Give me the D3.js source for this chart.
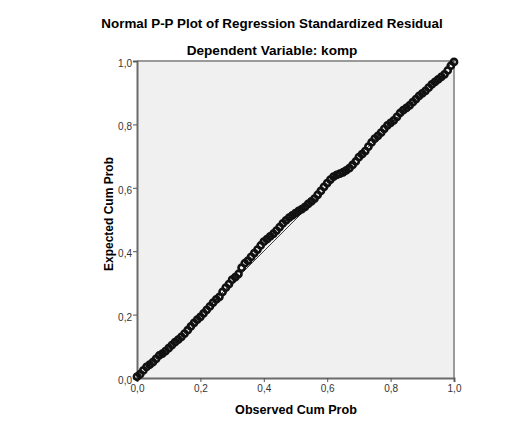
<html>
    <head>
        <meta charset="utf-8">
        <script src="https://d3js.org/d3.v7.min.js"></script>
        <title>P-P plot</title>
        <style>
            body { margin: 0; background: white; }
            text { font-family: Arial, "Liberation Sans", sans-serif; }
        </style>
    </head>
    <body>
        <svg id="chart"></svg>
        <script>
            // observed cum prob (x) and expected cum prob (y)
            const observed = [0.00, 0.01, 0.02, 0.03, 0.04, 0.05, 0.06, 0.07, 0.08, 0.09,
                              0.10, 0.11, 0.12, 0.13, 0.14, 0.15, 0.16, 0.17, 0.18, 0.19,
                              0.20, 0.21, 0.22, 0.23, 0.24, 0.25, 0.26, 0.27, 0.28, 0.29,
                              0.30, 0.31, 0.32, 0.33, 0.34, 0.35, 0.36, 0.37, 0.38, 0.39,
                              0.40, 0.41, 0.42, 0.43, 0.44, 0.45, 0.46, 0.47, 0.48, 0.49,
                              0.50, 0.51, 0.52, 0.53, 0.54, 0.55, 0.56, 0.57, 0.58, 0.59,
                              0.60, 0.61, 0.62, 0.63, 0.64, 0.65, 0.66, 0.67, 0.68, 0.69,
                              0.70, 0.71, 0.72, 0.73, 0.74, 0.75, 0.76, 0.77, 0.78, 0.79,
                              0.80, 0.81, 0.82, 0.83, 0.84, 0.85, 0.86, 0.87, 0.88, 0.89,
                              0.90, 0.91, 0.92, 0.93, 0.94, 0.95, 0.96, 0.97, 0.98, 0.99, 1.00];
            const expected = [0.004, 0.012, 0.024, 0.035, 0.042, 0.050, 0.060, 0.071, 0.077, 0.085,
                              0.094, 0.104, 0.113, 0.121, 0.130, 0.140, 0.151, 0.163, 0.174, 0.184,
                              0.193, 0.204, 0.215, 0.226, 0.238, 0.248, 0.256, 0.272, 0.285, 0.296,
                              0.310, 0.318, 0.328, 0.348, 0.362, 0.370, 0.382, 0.394, 0.405, 0.418,
                              0.430, 0.438, 0.447, 0.455, 0.465, 0.476, 0.488, 0.497, 0.506, 0.513,
                              0.520, 0.527, 0.533, 0.540, 0.549, 0.557, 0.566, 0.578, 0.590, 0.603,
                              0.615, 0.626, 0.635, 0.641, 0.645, 0.649, 0.655, 0.662, 0.672, 0.683,
                              0.697, 0.706, 0.716, 0.730, 0.743, 0.755, 0.764, 0.774, 0.786, 0.797,
                              0.805, 0.813, 0.824, 0.836, 0.845, 0.852, 0.860, 0.870, 0.880, 0.890,
                              0.898, 0.906, 0.916, 0.926, 0.934, 0.942, 0.950, 0.958, 0.970, 0.985, 0.997];
            const tickValues = [0, 0.2, 0.4, 0.6, 0.8, 1.0];
            const diagonal = [[0, 0], [1, 1]];

            const title = "Normal P-P Plot of Regression Standardized Residual";
            const subtitle = "Dependent Variable: komp";
            const xTitle = "Observed Cum Prob";
            const yTitle = "Expected Cum Prob";

            let points = observed.map((d, i) => ({'obs': d, 'exp': expected[i]}));

            const width = 525;
            const height = 423;
            // plot frame
            const plotLeft = 137, plotRight = 454, plotTop = 61, plotBottom = 378;

            let svg = d3.select("svg#chart")
                        .attr("width", width)
                        .attr("height", height);

            const xScale = d3.scaleLinear()
                             .domain([0, 1])
                             .range([plotLeft, plotRight]);
            const yScale = d3.scaleLinear()
                             .domain([0, 1])
                             .range([plotBottom, plotTop]);

            const fmt = d => d3.format(".1f")(d).replace(".", ",");

            // background
            svg.append("rect")
               .attr("x", plotLeft)
               .attr("y", plotTop)
               .attr("width", plotRight - plotLeft)
               .attr("height", plotBottom - plotTop)
               .attr("fill", "#f0f0f0");

            // top and right border (lighter)
            svg.append("path")
               .attr("d", `M${plotLeft},${plotTop}H${plotRight}V${plotBottom}`)
               .attr("fill", "none")
               .attr("stroke", "#9a9a9a")
               .attr("stroke-width", 2);

            // axes
            let xAxis = svg.append("g")
                           .attr("transform", `translate(0,${plotBottom})`)
                           .call(d3.axisBottom(xScale).tickValues(tickValues).tickFormat(fmt)
                                   .tickSize(4).tickPadding(3));
            let yAxis = svg.append("g")
                           .attr("transform", `translate(${plotLeft},0)`)
                           .call(d3.axisLeft(yScale).tickValues(tickValues).tickFormat(fmt)
                                   .tickSize(4).tickPadding(1));

            [xAxis, yAxis].forEach(a => {
                a.select(".domain").attr("stroke", "#6a6a6a").attr("stroke-width", 2);
                a.selectAll(".tick line").attr("stroke", "#555");
                a.selectAll(".tick text")
                 .attr("fill", "#333")
                 .style("font-size", "10px")
                 .style("font-family", "Arial, 'Liberation Sans', sans-serif");
            });
            yAxis.selectAll(".tick text").attr("dy", "0.55em");

            // reference line
            svg.append("line")
               .attr("x1", xScale(diagonal[0][0]))
               .attr("y1", yScale(diagonal[0][1]))
               .attr("x2", xScale(diagonal[1][0]))
               .attr("y2", yScale(diagonal[1][1]))
               .attr("stroke", "#444")
               .attr("stroke-width", 1);

            // points
            svg.append("g")
               .selectAll("circle").data(points)
               .join("circle")
               .attr("cx", d => xScale(d['obs']))
               .attr("cy", d => yScale(d['exp']))
               .attr("r", 3.1)
               .attr("fill", "none")
               .attr("stroke", "#111")
               .attr("stroke-width", 2.6);

            // titles
            svg.append("text")
               .attr("x", 272)
               .attr("y", 28)
               .attr("text-anchor", "middle")
               .style("font-size", "13.4px")
               .style("font-weight", "bold")
               .text(title);
            svg.append("text")
               .attr("x", 272)
               .attr("y", 55)
               .attr("text-anchor", "middle")
               .style("font-size", "13.6px")
               .style("font-weight", "bold")
               .text(subtitle);
            svg.append("text")
               .attr("x", 296)
               .attr("y", 414)
               .attr("text-anchor", "middle")
               .style("font-size", "12.6px")
               .style("font-weight", "bold")
               .text(xTitle);
            svg.append("text")
               .attr("transform", "translate(113,214) rotate(-90)")
               .attr("text-anchor", "middle")
               .style("font-size", "12px")
               .style("font-weight", "bold")
               .text(yTitle);
        </script>
    </body>
</html>
